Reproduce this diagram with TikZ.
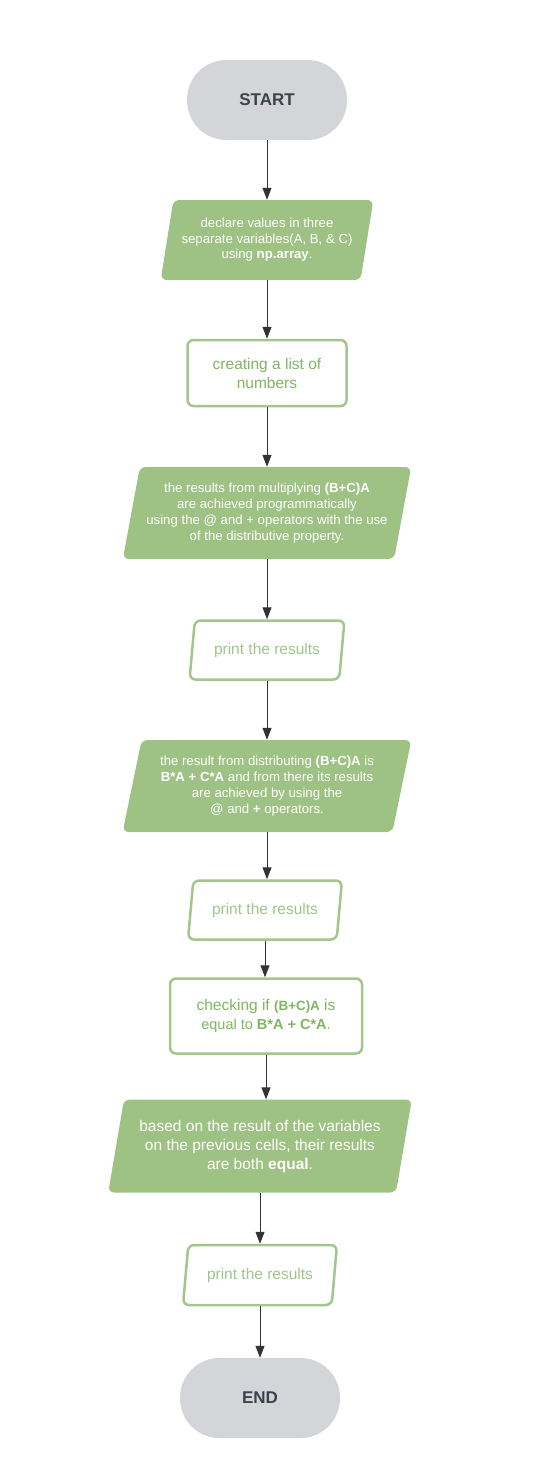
\documentclass[tikz,border=0pt]{standalone}
\usepackage{fontspec}
\setmainfont{Liberation Sans}
\usetikzlibrary{arrows.meta,shapes.geometric}

\definecolor{termgray}{HTML}{D4D5D8}
\definecolor{termtext}{HTML}{3B424C}
\definecolor{leaf}{HTML}{9DC284}
\definecolor{leafline}{HTML}{A3C68C}
\definecolor{leaftext}{HTML}{80B562}
\definecolor{paletext}{HTML}{9FC58A}
\definecolor{arrowdark}{HTML}{333333}

\begin{document}
\begin{tikzpicture}[
            x = 1pt, y = 1pt,
            flow/.style = {
                draw = arrowdark, line width = 1pt,
                -{Triangle[length = 12pt, width = 9pt]},
            },
            terminal/.style = {
                rectangle, rounded corners = 39.5pt,
                fill = termgray, text = termtext,
                minimum width = 160pt, minimum height = 80pt,
                font = \fontsize{17}{20}\selectfont\bfseries,
            },
            slanted/.style = {
                trapezium, trapezium stretches = true,
                trapezium left angle = 75, trapezium right angle = 105,
                rounded corners = 6pt, inner sep = 0pt, align = center,
            },
            datafill/.style = {
                slanted, fill = leaf, text = white,
                font = \fontsize{13.2}{15.5}\selectfont,
            },
            dataout/.style = {
                slanted, draw = leafline, line width = 2.5pt, fill = white,
                text = paletext, font = \fontsize{15.5}{18}\selectfont,
            },
            process/.style = {
                rectangle, draw = leafline, line width = 2.5pt, fill = white,
                rounded corners = 6pt, align = center, inner sep = 0pt,
                text = leaftext, font = \fontsize{15.5}{19}\selectfont,
            },
        ]

        \useasboundingbox[fill = white] (0,0) rectangle (541,-1484);

        % Blokken
        \node[terminal] (start) at (267,-100) {START};
        \node[datafill, below of = start, node distance = 140pt,
            minimum width = 213pt, minimum height = 80pt] (declare)
            {declare values in three \\ separate variables(A, B, \& C) \\ using \textbf{np.array}.};
        \node[process, below of = declare, node distance = 133pt,
            minimum width = 159pt, minimum height = 66pt] (numbers)
            {creating a list of \\ numbers};
        \node[datafill, below of = numbers, node distance = 140pt,
            minimum width = 289pt, minimum height = 92pt,
            font = \fontsize{13.2}{16}\selectfont] (multiply)
            {the results from multiplying \textbf{(B+C)A} \\ are achieved programmatically \\
             using the @ and + operators with the use \\ of the distributive property.};
        \node[dataout, below of = multiply, node distance = 137pt,
            minimum width = 155pt, minimum height = 59pt] (print_a) {print the results};
        \node[datafill, below of = print_a, node distance = 136pt,
            minimum width = 289pt, minimum height = 92pt,
            font = \fontsize{13.2}{16}\selectfont] (distribute)
            {the result from distributing \textbf{(B+C)A} is \\ \textbf{B*A + C*A} and from there its results \\
             are achieved by using the \\ @ and \textbf{+} operators.};
        \node[dataout, below of = distribute, node distance = 124pt, xshift = -2pt,
            minimum width = 154pt, minimum height = 59pt] (print_b) {print the results};
        \node[process, below of = print_b, node distance = 106pt, xshift = 1pt,
            minimum width = 192pt, minimum height = 75pt] (check)
            {checking if {\fontsize{13.4}{18}\selectfont\bfseries (B+C)A} is \\
             {\fontsize{14.5}{18}\selectfont equal to \textbf{B*A + C*A}.}};
        \node[datafill, below of = check, node distance = 130pt, xshift = -6pt,
            minimum width = 304pt, minimum height = 93pt,
            font = \fontsize{15.5}{19}\selectfont] (equal)
            {based on the result of the variables \\ on the previous cells, their results \\
             are both \textbf{equal}.};
        \node[dataout, below of = equal, node distance = 129pt,
            minimum width = 154pt, minimum height = 60pt] (print_c) {print the results};
        \node[terminal, below of = print_c, node distance = 123pt] (end) {END};

        % Pijlen
        \foreach \from/\to in {start/declare, declare/numbers, numbers/multiply,
            multiply/print_a, print_a/distribute, distribute/print_b,
            print_b/check, check/equal, equal/print_c, print_c/end}
            \draw[flow] (\from.south) -- (\from.south |- \to.north);

    \end{tikzpicture}
\end{document}
